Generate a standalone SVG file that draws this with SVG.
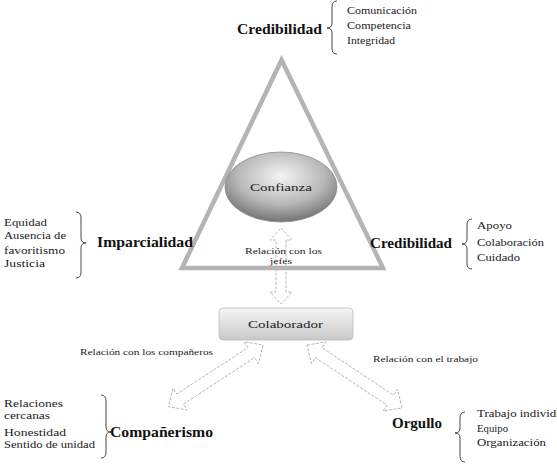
<svg xmlns="http://www.w3.org/2000/svg" width="557" height="472" viewBox="0 0 557 472">
<defs>
<style>
text{font-family:'Liberation Serif','DejaVu Serif',serif;fill:#222}
.t{font-size:11px}
.h{font-size:14px;font-weight:bold;fill:#111}
.s{font-size:9px}
.br{fill:none;stroke:#333;stroke-width:0.9}
.ar{fill:#fff;stroke:#aaa;stroke-width:0.8;stroke-dasharray:3 1.5}
</style>
<radialGradient id="eg" cx="0.5" cy="0.35" r="0.65">
<stop offset="0" stop-color="#f4f4f4"/>
<stop offset="0.6" stop-color="#b8b8b8"/>
<stop offset="1" stop-color="#737373"/>
</radialGradient>
<linearGradient id="bg" x1="0" y1="0" x2="0" y2="1">
<stop offset="0" stop-color="#f6f6f6"/>
<stop offset="1" stop-color="#c8c8c8"/>
</linearGradient>
</defs>
<rect width="557" height="472" fill="#fff"/>

<g id="connectors">
<polygon class="ar" transform="translate(281,228) rotate(90)" points="0,0 12,-11 12,-5 64,-5 64,-11 76,0 64,11 64,5 12,5 12,11"/>
<polygon class="ar" transform="translate(263,345) rotate(146.9)" points="0,0 14,-13 14,-6 99,-6 99,-13 113,0 99,13 99,6 14,6 14,13"/>
<polygon class="ar" transform="translate(307,345) rotate(33.5)" points="0,0 14,-13 14,-6 100,-6 100,-13 114,0 100,13 100,6 14,6 14,13"/>
<text class="s" x="245" y="254" textLength="77" lengthAdjust="spacingAndGlyphs">Relación con los</text>
<text class="s" x="270" y="264" textLength="22" lengthAdjust="spacingAndGlyphs">jefes</text>
<text class="s" x="80" y="355" textLength="133" lengthAdjust="spacingAndGlyphs">Relación con los compañeros</text>
<text class="s" x="373" y="362" textLength="105" lengthAdjust="spacingAndGlyphs">Relación con el trabajo</text>
</g>

<g id="triangle">
<polygon points="281.5,60 182,268 383,268" fill="none" stroke="#b4b4b4" stroke-width="4.5" stroke-linejoin="miter"/>
</g>

<g id="confianza">
<ellipse cx="281" cy="187" rx="56" ry="35" fill="url(#eg)" stroke="#8a8a8a" stroke-width="0.8"/>
<text class="t" x="250" y="191" textLength="62" lengthAdjust="spacingAndGlyphs">Confianza</text>
</g>

<g id="colaborador">
<rect x="219" y="308" width="134" height="32" rx="4" fill="url(#bg)" stroke="#bdbdbd" stroke-width="0.8"/>
<text class="t" x="248" y="328" textLength="75" lengthAdjust="spacingAndGlyphs">Colaborador</text>
</g>

<g id="credibilidad-top">
<text class="h" x="237" y="34" textLength="85" lengthAdjust="spacingAndGlyphs">Credibilidad</text>
<path class="br" d="M337,1 Q332,1 332,7 L332,23 Q332,28 327,28 Q332,28 332,33 L332,49 Q332,54 337,54"/>
<text class="t" x="347" y="14" textLength="70" lengthAdjust="spacingAndGlyphs">Comunicación</text>
<text class="t" x="347" y="29" textLength="64" lengthAdjust="spacingAndGlyphs">Competencia</text>
<text class="t" x="347" y="44" textLength="48" lengthAdjust="spacingAndGlyphs">Integridad</text>
</g>

<g id="imparcialidad">
<text class="t" x="4" y="226" textLength="43" lengthAdjust="spacingAndGlyphs">Equidad</text>
<text class="t" x="4" y="239" textLength="62" lengthAdjust="spacingAndGlyphs">Ausencia de</text>
<text class="t" x="4" y="254" textLength="61" lengthAdjust="spacingAndGlyphs">favoritismo</text>
<text class="t" x="4" y="267" textLength="41" lengthAdjust="spacingAndGlyphs">Justicia</text>
<path class="br" d="M76,212 Q81,212 81,218 L81,238 Q81,243 86,243 Q81,243 81,248 L81,272 Q81,278 76,278"/>
<text class="h" x="97" y="247" textLength="96" lengthAdjust="spacingAndGlyphs">Imparcialidad</text>
</g>

<g id="credibilidad-right">
<text class="h" x="370" y="248" textLength="82" lengthAdjust="spacingAndGlyphs">Credibilidad</text>
<path class="br" d="M472,219 Q467,219 467,225 L467,239 Q467,244 462,244 Q467,244 467,249 L467,264 Q467,269 472,269"/>
<text class="t" x="477" y="229" textLength="35" lengthAdjust="spacingAndGlyphs">Apoyo</text>
<text class="t" x="477" y="246" textLength="67" lengthAdjust="spacingAndGlyphs">Colaboración</text>
<text class="t" x="477" y="261" textLength="43" lengthAdjust="spacingAndGlyphs">Cuidado</text>
</g>

<g id="companerismo">
<text class="t" x="4" y="407" textLength="59" lengthAdjust="spacingAndGlyphs">Relaciones</text>
<text class="t" x="4" y="419" textLength="46" lengthAdjust="spacingAndGlyphs">cercanas</text>
<text class="t" x="4" y="436" textLength="62" lengthAdjust="spacingAndGlyphs">Honestidad</text>
<text class="t" x="4" y="448" textLength="91" lengthAdjust="spacingAndGlyphs">Sentido de unidad</text>
<path class="br" d="M101,395 Q106,395 106,401 L106,427 Q106,432 111,432 Q106,432 106,437 L106,452 Q106,458 101,458"/>
<text class="h" x="110" y="437" textLength="103" lengthAdjust="spacingAndGlyphs">Compañerismo</text>
</g>

<g id="orgullo">
<text class="h" x="392" y="428" textLength="50" lengthAdjust="spacingAndGlyphs">Orgullo</text>
<path class="br" d="M465,412 Q460,412 460,418 L460,428 Q460,433 455,433 Q460,433 460,438 L460,456 Q460,462 465,462"/>
<text class="t" x="477" y="417" textLength="95" lengthAdjust="spacingAndGlyphs">Trabajo individual</text>
<text class="t" x="477" y="432" textLength="31" lengthAdjust="spacingAndGlyphs">Equipo</text>
<text class="t" x="477" y="446" textLength="69" lengthAdjust="spacingAndGlyphs">Organización</text>
</g>
</svg>
